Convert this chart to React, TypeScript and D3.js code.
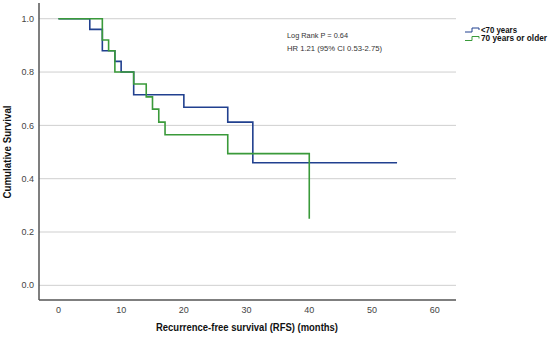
import React from 'react';
import * as d3 from 'd3';

// Kaplan-Meier step data
const youngTimes = [0, 5, 7, 9, 10, 12, 20, 27, 31, 54];
const youngSurv = [1.0, 0.96, 0.88, 0.84, 0.8, 0.715, 0.668, 0.612, 0.46, 0.46];

const oldTimes = [0, 7, 8, 9, 12, 14, 15, 16, 17, 27, 40, 40];
const oldSurv = [1.0, 0.92, 0.88, 0.8, 0.755, 0.707, 0.661, 0.612, 0.565, 0.494, 0.494, 0.25];

const seriesNames = ['<70 years', '70 years or older'];
const seriesColors = ['#21408f', '#3a9a3a'];
const legendWidths = [36, 66];

const xTicks = [0, 10, 20, 30, 40, 50, 60];
const yTicks = [0, 0.2, 0.4, 0.6, 0.8, 1.0];

const W = 550;
const H = 337;
const left = 39;
const right = 456;
const top = 3;
const bottom = 300;

const App: React.FC = () => {
  const x = d3.scaleLinear().domain([-3.1, 63.4]).range([left, right]);
  const y = d3.scaleLinear().domain([-0.055, 1.059]).range([bottom, top]);

  const line = d3
    .line<[number, number]>()
    .x(d => x(d[0]))
    .y(d => y(d[1]))
    .curve(d3.curveStepAfter);

  const series = [
    youngTimes.map((t, i) => [t, youngSurv[i]] as [number, number]),
    oldTimes.map((t, i) => [t, oldSurv[i]] as [number, number]),
  ];

  const font = '"Liberation Sans", Arial, sans-serif';

  return (
    <svg width={W} height={H} style={{ position: 'absolute', left: 0, top: 0, background: '#fff' }} fontFamily={font}>
      {/* grid */}
      {yTicks.map(t => (
        <line key={'g' + t} x1={left} x2={right} y1={y(t)} y2={y(t)} stroke="#cfcfcf" strokeWidth={1} />
      ))}
      {/* axes */}
      <line x1={left} x2={left} y1={top} y2={bottom} stroke="#555" strokeWidth={1.5} />
      <line x1={left} x2={right} y1={bottom} y2={bottom} stroke="#555" strokeWidth={1.5} />
      {yTicks.map(t => (
        <text key={'y' + t} x={34} y={y(t)} dy="0.35em" textAnchor="end" fontSize={9} fill="#444">
          {d3.format('.1f')(t)}
        </text>
      ))}
      {xTicks.map(t => (
        <text key={'x' + t} x={x(t)} y={313} textAnchor="middle" fontSize={9} fill="#444">
          {t}
        </text>
      ))}
      {/* curves */}
      {series.map((s, i) => (
        <path key={i} d={line(s) || ''} fill="none" stroke={seriesColors[i]} strokeWidth={1.6} />
      ))}
      {/* annotation */}
      <text x={287} y={38} fontSize={8} fill="#333" textLength={61} lengthAdjust="spacingAndGlyphs">
        Log Rank P = 0.64
      </text>
      <text x={287} y={51} fontSize={8} fill="#333" textLength={95} lengthAdjust="spacingAndGlyphs">
        HR 1.21 (95% CI 0.53-2.75)
      </text>
      {/* legend */}
      {seriesNames.map((n, i) => {
        const ly = 30 + i * 8.5;
        return (
          <g key={n}>
            <path
              d={`M465,${ly + 2}H472V${ly - 2}H479V${ly}`}
              fill="none"
              stroke={seriesColors[i]}
              strokeWidth={1}
            />
            <text
              x={481}
              y={ly}
              dy="0.35em"
              fontSize={8.5}
              fontWeight="bold"
              fill="#111"
              textLength={legendWidths[i]}
              lengthAdjust="spacingAndGlyphs"
            >
              {n}
            </text>
          </g>
        );
      })}
      {/* axis titles */}
      <text
        x={247}
        y={331}
        textAnchor="middle"
        fontSize={10}
        fontWeight="bold"
        fill="#111"
        textLength={182}
        lengthAdjust="spacingAndGlyphs"
      >
        Recurrence-free survival (RFS) (months)
      </text>
      <text
        transform="translate(11,152) rotate(-90)"
        textAnchor="middle"
        fontSize={10}
        fontWeight="bold"
        fill="#111"
        textLength={93}
        lengthAdjust="spacingAndGlyphs"
      >
        Cumulative Survival
      </text>
    </svg>
  );
};

export default App;
